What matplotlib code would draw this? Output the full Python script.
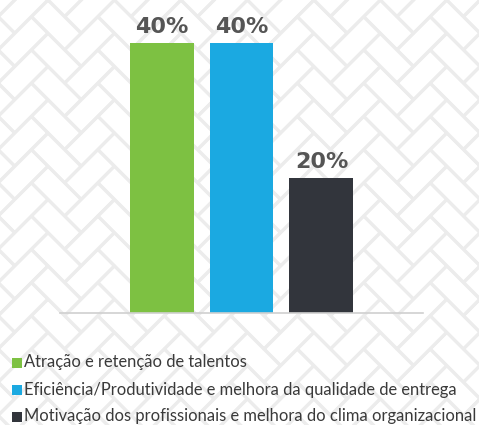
import matplotlib.pyplot as plt
import numpy as np
from matplotlib.collections import LineCollection
from matplotlib.patches import Rectangle

categorias = ["Atração e retenção de talentos",
              "Eficiência/Produtividade e melhora da qualidade de entrega",
              "Motivação dos profissionais e melhora do clima organizacional"]
valores = [40, 40, 20]
rotulos = ["40%", "40%", "20%"]
cores = ["#7dc142", "#1ba9e1", "#32353c"]

W, H = 479, 425
fig = plt.figure(figsize=(W / 100, H / 100), dpi=100)
fig.patch.set_facecolor("white")

# fundo com padrao espinha de peixe
bg = fig.add_axes([0, 0, 1, 1])
bg.set_xlim(0, W)
bg.set_ylim(H, 0)
bg.axis("off")

u = 23.5
ox, oy = 48.0, 0.0
segs = []
for s in range(-20, 21):
    for i in range(-40, 41):
        rects = [(i + 2 * s, i - 2 * s, 2, 1), (i + 2 * s, i + 1 - 2 * s, 1, 2)]
        for (x0, y0, w, h) in rects:
            cs = [(x0, y0), (x0 + w, y0), (x0 + w, y0 + h), (x0, y0 + h), (x0, y0)]
            pts = []
            for (a, b) in cs:
                xr = (a - b) / np.sqrt(2) * u + ox
                yr = (a + b) / np.sqrt(2) * u + oy
                pts.append((xr, yr))
            for k in range(4):
                segs.append([pts[k], pts[k + 1]])
bg.add_collection(LineCollection(segs, colors="#ececec", linewidths=2.2))

# legenda manual
for k, (lab, c) in enumerate(zip(categorias, cores)):
    yc = 362.5 + k * 27
    bg.add_patch(Rectangle((12, yc - 5), 10, 10, color=c, lw=0, zorder=3))
    bg.text(24.5, yc, lab, fontsize=11.9, family="Lato", color="#3a3a3a",
            va="center", ha="left", zorder=3)

# grafico de barras
ax = fig.add_axes([60 / W, (H - 313) / H, 363 / W, 304 / H])
ax.patch.set_alpha(0)
x = np.arange(len(valores))
barras = ax.bar(x, valores, width=0.8, color=cores)
ax.set_xlim(-1.27, 3.27)
ax.set_ylim(0, 304 / 6.75)
for b, r in zip(barras, rotulos):
    ax.annotate(r, (b.get_x() + b.get_width() / 2, b.get_height()),
                xytext=(0, 7), textcoords="offset points", ha="center",
                va="baseline", fontsize=16, fontweight="bold", color="#555555")
for sp in ["top", "left", "right"]:
    ax.spines[sp].set_visible(False)
ax.spines["bottom"].set_color("#d0d0d0")
ax.spines["bottom"].set_linewidth(1.2)
ax.set_xticks([])
ax.set_yticks([])

fig.savefig("out.png", dpi=100)
